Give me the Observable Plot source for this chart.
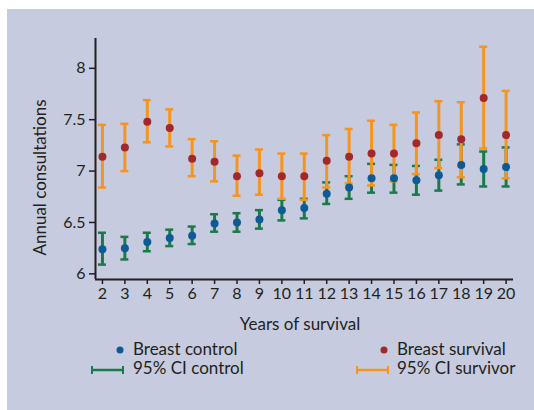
<!DOCTYPE html>
<html>
<head>
<meta charset="utf-8">
<script src="https://cdn.jsdelivr.net/npm/d3@7"></script>
<script src="https://cdn.jsdelivr.net/npm/@observablehq/plot@0.6"></script>
<style>
  html, body { margin: 0; padding: 0; background: #ffffff; width: 534px; height: 410px; overflow: hidden; }
  #panel { position: absolute; left: 7px; top: 9px; width: 527px; height: 401px; background: #c6cbdf; }
  #chart { position: absolute; left: 0; top: 0; }
  .leg { position: absolute; font-family: Lato, "Open Sans", sans-serif; font-size: 17px; color: #231f20; line-height: 1; white-space: nowrap; }
  .sym { position: absolute; }
  #xlab { position: absolute; left: 200px; width: 200px; top: 315px; text-align: center; }
  #ylab { position: absolute; left: -61px; top: 169px; width: 200px; text-align: center; transform: rotate(-90deg); transform-origin: 100px 8.5px; }
</style>
</head>
<body>
<div id="panel"></div>
<div id="chart"></div>
<div class="leg" id="xlab">Years of survival</div>
<div class="leg" id="ylab">Annual consultations</div>
<svg class="sym" style="left:114px;top:344px" width="12" height="12"><circle cx="6" cy="6" r="3.5" fill="#0d5a94"/></svg>
<div class="leg" style="left:133px;top:339.6px">Breast control</div>
<svg class="sym" style="left:90px;top:364px" width="35" height="12"><line x1="2" y1="6" x2="33" y2="6" stroke="#1b7a4a" stroke-width="2.5"/><line x1="2" y1="2" x2="2" y2="10" stroke="#1b7a4a" stroke-width="2"/><line x1="33" y1="2" x2="33" y2="10" stroke="#1b7a4a" stroke-width="2"/></svg>
<div class="leg" style="left:133px;top:359px">95% CI control</div>
<svg class="sym" style="left:378px;top:344px" width="12" height="12"><circle cx="6" cy="6" r="3.5" fill="#a3282b"/></svg>
<div class="leg" style="left:397px;top:339.6px">Breast survival</div>
<svg class="sym" style="left:355px;top:364px" width="35" height="12"><line x1="2" y1="6" x2="33" y2="6" stroke="#f7941d" stroke-width="2.5"/><line x1="2" y1="2" x2="2" y2="10" stroke="#f7941d" stroke-width="2"/><line x1="33" y1="2" x2="33" y2="10" stroke="#f7941d" stroke-width="2"/></svg>
<div class="leg" style="left:397px;top:359px">95% CI survivor</div>
<script>
const years = [2,3,4,5,6,7,8,9,10,11,12,13,14,15,16,17,18,19,20];
const controlMean = [6.24,6.25,6.31,6.35,6.37,6.49,6.50,6.53,6.62,6.64,6.78,6.84,6.93,6.93,6.91,6.96,7.06,7.02,7.04];
const controlLow  = [6.09,6.14,6.22,6.27,6.29,6.41,6.41,6.44,6.52,6.54,6.68,6.73,6.79,6.79,6.77,6.81,6.87,6.85,6.85];
const controlHigh = [6.40,6.36,6.40,6.43,6.46,6.58,6.59,6.62,6.72,6.73,6.89,6.95,7.07,7.06,7.05,7.11,7.26,7.19,7.23];
const survMean = [7.14,7.23,7.48,7.42,7.12,7.09,6.95,6.98,6.95,6.95,7.10,7.14,7.17,7.17,7.27,7.35,7.31,7.71,7.35];
const survLow  = [6.84,7.00,7.28,7.24,6.95,6.90,6.76,6.77,6.73,6.72,6.84,6.88,6.86,6.90,6.97,7.03,6.94,7.22,6.93];
const survHigh = [7.45,7.46,7.69,7.60,7.31,7.29,7.15,7.21,7.17,7.17,7.35,7.41,7.49,7.45,7.57,7.68,7.67,8.21,7.78];
const yTicks = [6, 6.5, 7, 7.5, 8];

const control = years.map((y, i) => ({year: y, mean: controlMean[i], low: controlLow[i], high: controlHigh[i]}));
const surv = years.map((y, i) => ({year: y, mean: survMean[i], low: survLow[i], high: survHigh[i]}));

const ink = "#231f20";
const green = "#1b7a4a", orange = "#f7941d", blue = "#0d5a94", red = "#a3282b";

const chart = Plot.plot({
  width: 534,
  height: 310,
  marginLeft: 95,
  marginRight: 21,
  marginTop: 38,
  marginBottom: 31,
  style: {background: "transparent", fontFamily: "Lato, 'Open Sans', sans-serif", fontSize: "16px", color: ink},
  x: {domain: [1.69, 20.33], ticks: years, tickFormat: d => String(d)},
  y: {domain: [5.945, 8.29], ticks: yTicks, tickFormat: d => String(d)},
  marks: [
    Plot.axisY({ticks: yTicks, tickFormat: d => String(d), tickSize: 6, tickPadding: 4, stroke: ink, strokeWidth: 1.5, fill: ink, label: null}),
    Plot.axisX({ticks: years, tickFormat: d => String(d), tickSize: 5, tickPadding: 3, stroke: ink, strokeWidth: 1.5, fill: ink, label: null}),
    Plot.ruleX([0], {x: 1.69, y1: 5.945, y2: 8.29, stroke: ink, strokeWidth: 2}),
    Plot.ruleY([0], {y: 5.945, x1: 1.69, x2: 20.33, stroke: ink, strokeWidth: 2}),
    Plot.ruleX(control, {x: "year", y1: "low", y2: "high", stroke: green, strokeWidth: 3}),
    Plot.ruleY(control, {y: "low", x1: "year", x2: "year", insetLeft: -4, insetRight: -4, stroke: green, strokeWidth: 2.5}),
    Plot.ruleY(control, {y: "high", x1: "year", x2: "year", insetLeft: -4, insetRight: -4, stroke: green, strokeWidth: 2.5}),
    Plot.ruleX(surv, {x: "year", y1: "low", y2: "high", stroke: orange, strokeWidth: 3}),
    Plot.ruleY(surv, {y: "low", x1: "year", x2: "year", insetLeft: -4, insetRight: -4, stroke: orange, strokeWidth: 2.5}),
    Plot.ruleY(surv, {y: "high", x1: "year", x2: "year", insetLeft: -4, insetRight: -4, stroke: orange, strokeWidth: 2.5}),
    Plot.dot(control, {x: "year", y: "mean", r: 4, fill: blue}),
    Plot.dot(surv, {x: "year", y: "mean", r: 4, fill: red})
  ]
});
document.getElementById("chart").appendChild(chart);
</script>
</body>
</html>
